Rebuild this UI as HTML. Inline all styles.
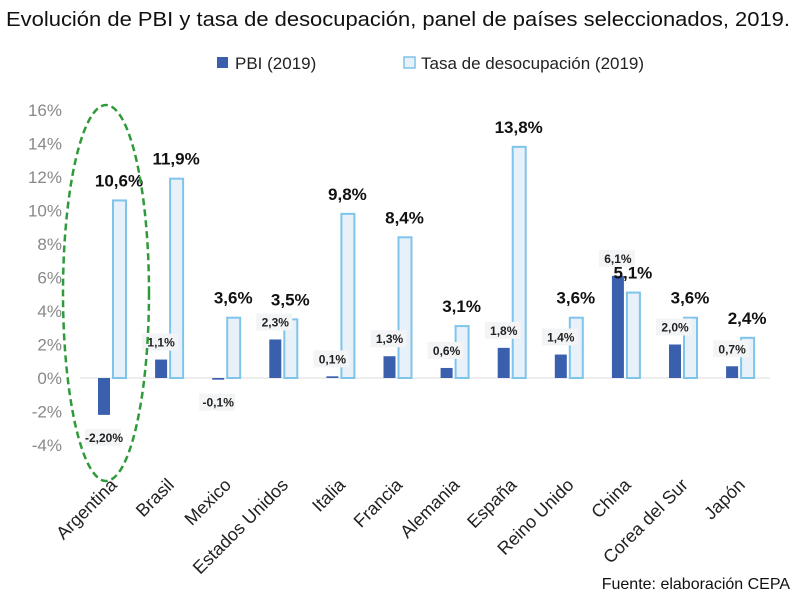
<!DOCTYPE html>
<html><head><meta charset="utf-8"><style>
body{margin:0;background:#fff;width:800px;height:609px;overflow:hidden;font-family:"Liberation Sans",sans-serif}
</style></head><body>
<svg width="800" height="609" viewBox="0 0 800 609" id="chart">
<text x="398" y="26" text-anchor="middle" font-size="20.5" fill="#111" textLength="784" lengthAdjust="spacingAndGlyphs">Evolución de PBI y tasa de desocupación, panel de países seleccionados, 2019.</text>
<g>
<rect x="217" y="57" width="11" height="11" fill="#3a5fad"/>
<text x="235" y="69" font-size="17" fill="#222">PBI (2019)</text>
<rect x="404" y="57" width="11" height="11" fill="#e8f1fa" stroke="#7fc4ea" stroke-width="1.5"/>
<text x="421" y="69" font-size="17" fill="#222">Tasa de desocupación (2019)</text>
</g>
<g id="axis"></g><g id="bars"></g><g id="labels"></g>
<ellipse cx="106" cy="293" rx="43" ry="188" fill="none" stroke="#2f9a3a" stroke-width="2.5" stroke-dasharray="7,4"/>
<text x="790" y="589" text-anchor="end" font-size="16" fill="#111">Fuente: elaboración CEPA</text>
</svg>
<script>
const categories=["Argentina","Brasil","Mexico","Estados Unidos","Italia","Francia","Alemania","España","Reino Unido","China","Corea del Sur","Japón"];
const pbi=[-2.2,1.1,-0.1,2.3,0.1,1.3,0.6,1.8,1.4,6.1,2.0,0.7];
const pbiLabels=["-2,20%","1,1%","-0,1%","2,3%","0,1%","1,3%","0,6%","1,8%","1,4%","6,1%","2,0%","0,7%"];
const desoc=[10.6,11.9,3.6,3.5,9.8,8.4,3.1,13.8,3.6,5.1,3.6,2.4];
const desocLabels=["10,6%","11,9%","3,6%","3,5%","9,8%","8,4%","3,1%","13,8%","3,6%","5,1%","3,6%","2,4%"];
const yTicks=[16,14,12,10,8,6,4,2,0,-2,-4];
const NS="http://www.w3.org/2000/svg";
const y=v=>378-v*16.75;
const xc=i=>112+i*57.1;
function mk(t,a,p){const e=document.createElementNS(NS,t);for(const k in a)e.setAttribute(k,a[k]);p.appendChild(e);return e;}
const ax=document.getElementById('axis'),bars=document.getElementById('bars'),lab=document.getElementById('labels');
yTicks.forEach(v=>{const t=mk('text',{x:62,y:y(v)+6,'text-anchor':'end','font-size':17,fill:'#888'},ax);t.textContent=v+'%';

});
const zl=mk('line',{x1:80,x2:770,y1:y(0),y2:y(0),stroke:'#ddd','stroke-width':1},ax);


categories.forEach((c,i)=>{
 const cx=xc(i);
 const v=pbi[i];
 const b=mk('rect',{x:cx-14,y:Math.min(y(v),y(0)),width:12,height:Math.max(Math.abs(y(v)-y(0)),1.5),fill:'#3a5fad'},bars);
 
 
 const d=desoc[i];
 const b2=mk('rect',{x:cx+1,y:y(d),width:13,height:y(0)-y(d),fill:'#e8f1fa',stroke:'#7fc4ea','stroke-width':2},bars);
 
 
 const dl=mk('text',{x:cx+7,y:y(d)-14,'text-anchor':'middle','font-size':17,'font-weight':'bold',fill:'#111'},lab);
 dl.textContent=desocLabels[i];
 
 
 const py=v<0?y(v)+26:y(v)-14;
 const bg=mk('rect',{x:cx-27,y:py-12,width:36,height:17,fill:'#f3f4f6'},lab);
 
 
 const pl=mk('text',{x:cx-8,y:py+1,'text-anchor':'middle','font-size':12,'font-weight':'bold',fill:'#222'},lab);
 pl.textContent=pbiLabels[i];
 
 
 const cl=mk('text',{x:cx+6,y:486,'text-anchor':'end','font-size':18,fill:'#222',transform:`rotate(-45 ${cx+6} 486)`},lab);
 cl.textContent=c;
 
 
});
</script>
</body></html>
